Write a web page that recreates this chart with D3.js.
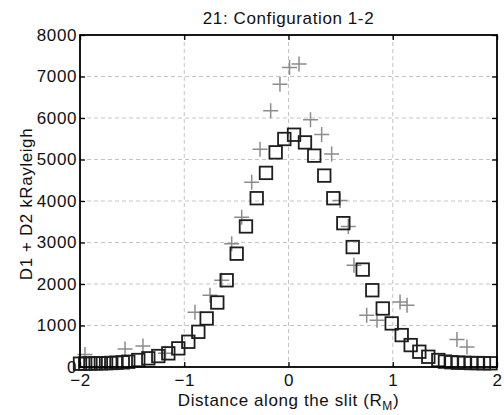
<!DOCTYPE html>
<html>
<head>
<meta charset="utf-8">
<script src="https://cdn.jsdelivr.net/npm/d3@7"></script>
<style>
html,body{margin:0;padding:0;background:#fff;}
svg{display:block;font-family:"Liberation Sans",Arial,sans-serif;}
</style>
</head>
<body>
<svg id="chart" width="504" height="415"></svg>
<script>
// ---- data ----
const titleText = "21: Configuration 1-2";
const xTicks = [-2, -1, 0, 1, 2];
const yTicks = [0, 1000, 2000, 3000, 4000, 5000, 6000, 7000, 8000];

const squareX = [-2.00,-1.95,-1.90,-1.85,-1.80,-1.75,-1.70,-1.65,-1.59,
  -1.537,-1.441,-1.345,-1.249,-1.153,-1.057,-0.961,-0.865,-0.785,-0.683,
  -0.593,-0.497,-0.408,-0.305,-0.216,-0.123,-0.040,0.053,0.158,0.247,
  0.343,0.430,0.526,0.616,0.712,0.804,0.904,0.990,1.086,1.172,1.255,
  1.341,1.437,1.501,1.563,1.626,1.688,1.751,1.813,1.875,1.938];
const squareY = [80,82,85,88,90,93,97,103,112,
  127,168,209,264,329,449,608,848,1170,1554,
  2090,2731,3387,4067,4677,5172,5494,5597,5412,5093,
  4612,4067,3466,2890,2347,1850,1410,1050,769,528,368,
  247,168,130,115,105,100,95,95,90,90];

const plusX = [-1.952,-1.568,-1.396,-1.18,-0.897,-0.753,-0.641,-0.545,-0.449,-0.353,
  -0.273,-0.171,-0.082,0.010,0.101,0.211,0.318,0.414,0.494,0.574,
  0.628,0.750,0.849,1.070,1.137,1.616,1.712];
const plusY = [300,432,504,330,1321,1730,2090,2971,3610,4451,
  5244,6173,6815,7214,7302,5957,5604,5133,4012,3387,
  2450,1249,1129,1569,1489,660,480];

// ---- layout ----
const svg = d3.select("#chart");
const L = 80, R = 497, T = 35, B = 367;
const x = d3.scaleLinear().domain([-2, 2]).range([L, R]);
const y = d3.scaleLinear().domain([0, 8000]).range([B, T]);
const fs = 17, ls = "0.6px";

// grid
const grid = svg.append("g").attr("stroke", "#c4c4c4").attr("stroke-width", 1)
  .attr("stroke-dasharray", "4,3");
xTicks.filter(d => d > -2 && d < 2).forEach(d => {
  grid.append("line").attr("x1", x(d)).attr("x2", x(d)).attr("y1", T).attr("y2", B);
});
yTicks.filter(d => d > 0 && d < 8000).forEach(d => {
  grid.append("line").attr("x1", L).attr("x2", R).attr("y1", y(d)).attr("y2", y(d));
});

// markers: pluses first
const pts = plusX.map((d, i) => [d, plusY[i]]);
const h = 7.5;
svg.append("g").attr("stroke", "#8c8c8c").attr("stroke-width", 1.5).attr("fill", "none")
  .selectAll("path").data(pts).join("path")
  .attr("d", d => {
    const cx = x(d[0]), cy = y(d[1]);
    return `M${cx - h},${cy}H${cx + h}M${cx},${cy - h}V${cy + h}`;
  });

const sq = squareX.map((d, i) => [d, squareY[i]]);
const s = 12.5;
svg.append("g").attr("stroke", "#1e1e1e").attr("stroke-width", 1.8).attr("fill", "none")
  .selectAll("rect").data(sq).join("rect")
  .attr("x", d => x(d[0]) - s / 2).attr("y", d => y(d[1]) - s / 2)
  .attr("width", s).attr("height", s);

// axes
function style(g) {
  g.selectAll(".domain").remove();
  g.selectAll(".tick line").attr("stroke", "#000").attr("stroke-width", 1.3);
  g.selectAll("text").attr("fill", "#111").style("font-size", fs + "px")
    .style("letter-spacing", ls)
    .style("font-family", '"Liberation Sans",Arial,sans-serif');
}
svg.append("g").attr("transform", `translate(0,${B})`)
  .call(d3.axisBottom(x).tickValues(xTicks).tickSize(-5).tickPadding(7).tickFormat(d3.format("d")))
  .call(style).call(g => g.selectAll("text").attr("dy", "0.71em"));
svg.append("g").attr("transform", `translate(0,${T})`)
  .call(d3.axisTop(x).tickValues(xTicks).tickSize(-5).tickFormat(""))
  .call(style);
svg.append("g").attr("transform", `translate(${L},0)`)
  .call(d3.axisLeft(y).tickValues(yTicks).tickSize(-5).tickPadding(3).tickFormat(d3.format("d")))
  .call(style);
svg.append("g").attr("transform", `translate(${R},0)`)
  .call(d3.axisRight(y).tickValues(yTicks).tickSize(-5).tickFormat(""))
  .call(style);

// frame
svg.append("rect").attr("x", L).attr("y", T).attr("width", R - L).attr("height", B - T)
  .attr("fill", "none").attr("stroke", "#000").attr("stroke-width", 1.8);

// title
svg.append("text").attr("x", (L + R) / 2).attr("y", 23.5).attr("text-anchor", "middle")
  .style("font-size", fs + "px").style("letter-spacing", ls).attr("fill", "#111").text(titleText);

// x label
const xl = svg.append("text").attr("x", (L + R) / 2).attr("y", 406).attr("text-anchor", "middle")
  .style("font-size", fs + "px").style("letter-spacing", ls).attr("fill", "#111");
xl.append("tspan").text("Distance along the slit (R");
xl.append("tspan").attr("dy", 4).style("font-size", "12px").text("M");
xl.append("tspan").attr("dy", -4).text(")");

// y label
svg.append("text").attr("transform", `translate(32,${(T + B) / 2 + 3}) rotate(-90)`)
  .attr("text-anchor", "middle").style("font-size", fs + "px").style("letter-spacing", ls)
  .attr("fill", "#111")
  .text("D1 + D2 kRayleigh");
</script>
</body>
</html>
